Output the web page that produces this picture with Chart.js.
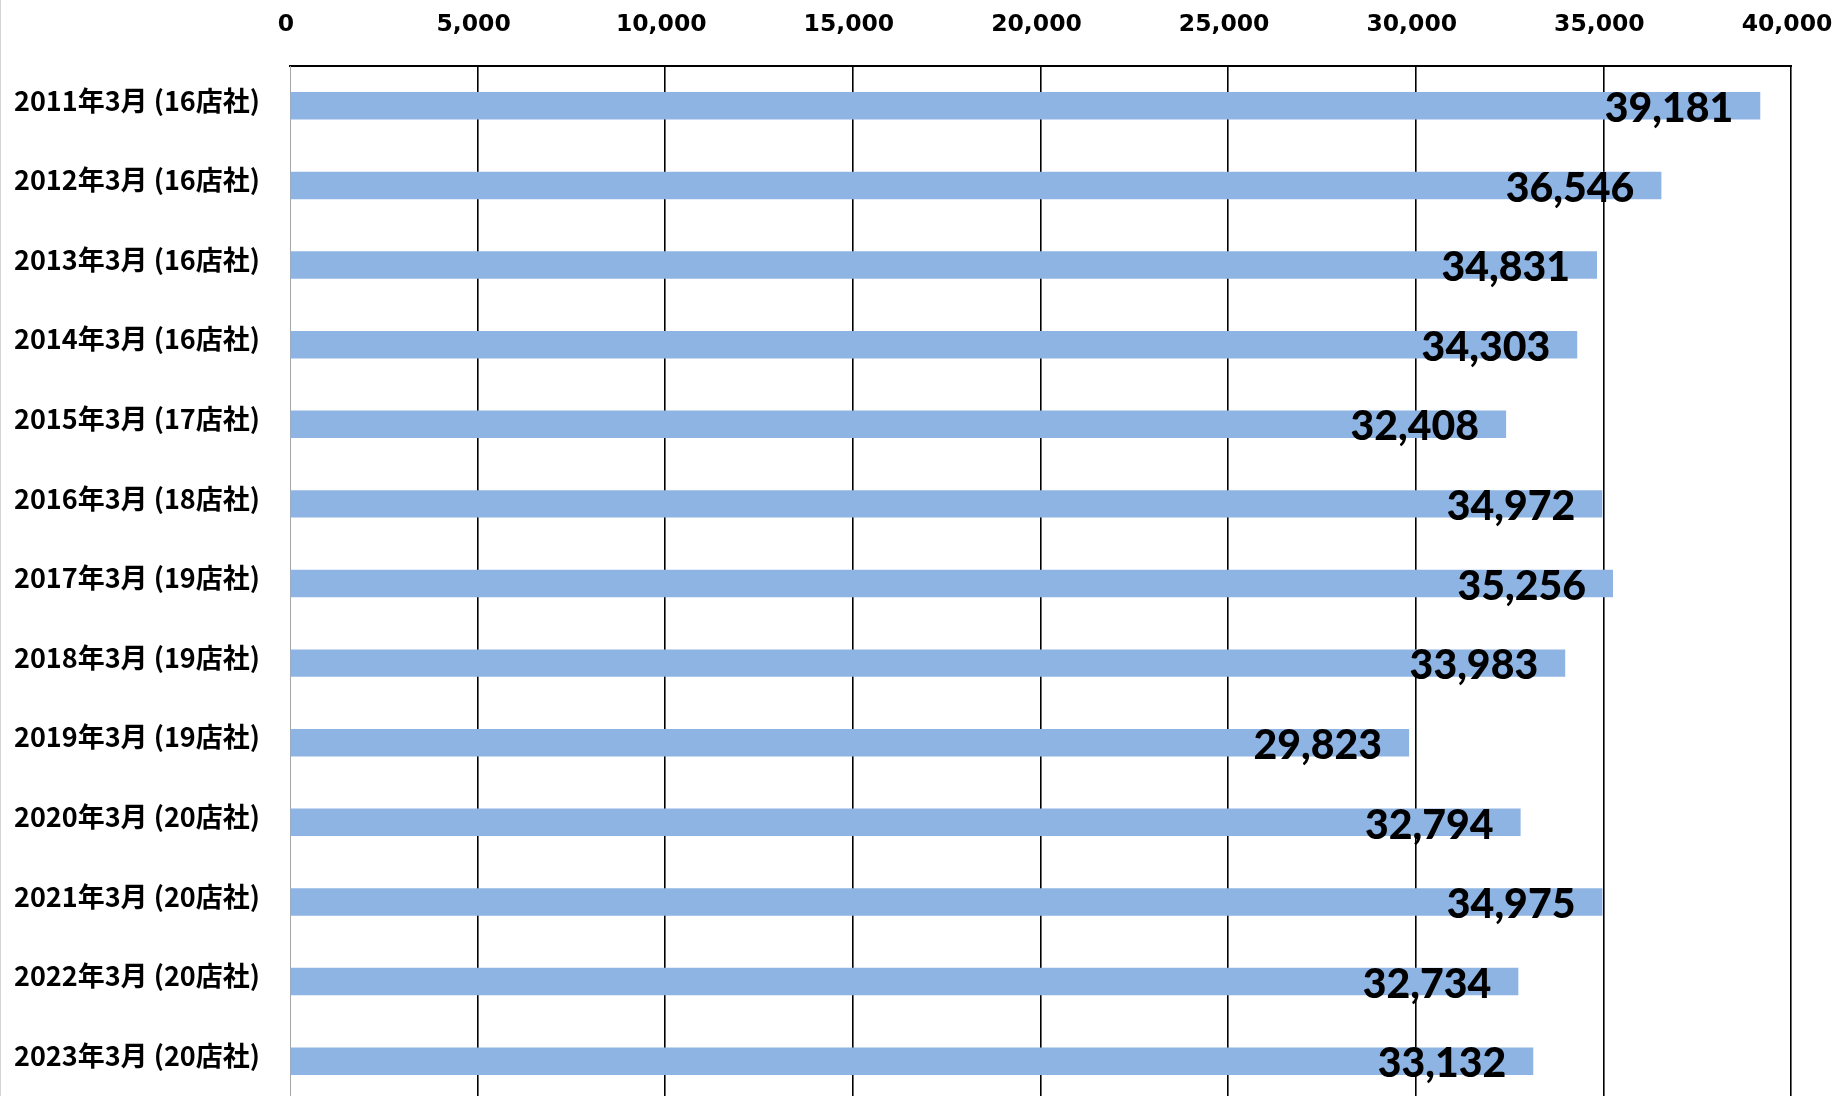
<!DOCTYPE html>
<html>
<head>
<meta charset="utf-8">
<script src="https://cdn.jsdelivr.net/npm/chart.js@4/dist/chart.umd.min.js"></script>
<style>
  html, body { margin: 0; padding: 0; background: #fff; overflow: hidden; }
  #wrap { position: relative; width: 1848px; height: 1101px; }
  #edge { position: absolute; left: 0; top: 0; width: 1px; height: 1101px; background: #d4d4d4; }
</style>
</head>
<body>
<div id="wrap">
  <canvas id="chart" width="1848" height="1101"></canvas>
  <div id="edge"></div>
</div>
<script>
const categories = [
  '2011年3月 (16店社)', '2012年3月 (16店社)', '2013年3月 (16店社)', '2014年3月 (16店社)',
  '2015年3月 (17店社)', '2016年3月 (18店社)', '2017年3月 (19店社)', '2018年3月 (19店社)',
  '2019年3月 (19店社)', '2020年3月 (20店社)', '2021年3月 (20店社)', '2022年3月 (20店社)',
  '2023年3月 (20店社)'
];
const values = [39181, 36546, 34831, 34303, 32408, 34972, 35256, 33983, 29823, 32794, 34975, 32734, 33132];
const axisMin = 0;
const axisMax = 40000;
const axisStep = 5000;

// value labels drawn at the inner end of each bar
const valueLabels = {
  id: 'valueLabels',
  afterDatasetsDraw(chart) {
    const ctx = chart.ctx;
    const meta = chart.getDatasetMeta(0);
    ctx.save();
    ctx.font = '900 41px Lato';
    ctx.fillStyle = '#000';
    ctx.textAlign = 'right';
    ctx.textBaseline = 'middle';
    meta.data.forEach((bar, i) => {
      ctx.fillText(values[i].toLocaleString('en-US'), bar.x - 27, bar.y + 3);
    });
    ctx.restore();
  }
};

function noPadding(scale) {
  scale.paddingLeft = 0;
  scale.paddingRight = 0;
  scale.paddingTop = 0;
  scale.paddingBottom = 0;
}

new Chart(document.getElementById('chart').getContext('2d'), {
  type: 'bar',
  data: {
    labels: categories,
    datasets: [{
      data: values,
      backgroundColor: '#8eb4e3',
      borderWidth: 0,
      barPercentage: 0.345,
      categoryPercentage: 1
    }]
  },
  options: {
    indexAxis: 'y',
    responsive: false,
    animation: false,
    layout: { padding: { top: 0, right: 57, bottom: 0, left: 0 } },
    plugins: { legend: { display: false }, tooltip: { enabled: false } },
    scales: {
      x: {
        position: 'top',
        min: axisMin,
        max: axisMax,
        afterFit(scale) { scale.height = 66; noPadding(scale); },
        ticks: {
          stepSize: axisStep,
          padding: 27,
          labelOffset: -4,
          color: '#000',
          font: { family: 'DejaVu Sans', weight: 'bold', size: 23.5 },
          callback: v => v.toLocaleString('en-US')
        },
        grid: {
          drawTicks: false,
          color: c => c.index === 0 ? '#a6a6a6' : '#000',
          lineWidth: c => c.index === 0 ? 1 : 1.6
        },
        border: { display: true, color: '#000', width: 2 }
      },
      y: {
        afterFit(scale) { scale.width = 290; noPadding(scale); },
        ticks: {
          padding: 30,
          labelOffset: -5.5,
          color: '#000',
          font: { family: '"Noto Sans CJK JP"', weight: 'bold', size: 27 }
        },
        grid: { display: false, drawTicks: false },
        border: { display: true, color: '#a6a6a6', width: 1 }
      }
    }
  },
  plugins: [valueLabels]
});
</script>
</body>
</html>
